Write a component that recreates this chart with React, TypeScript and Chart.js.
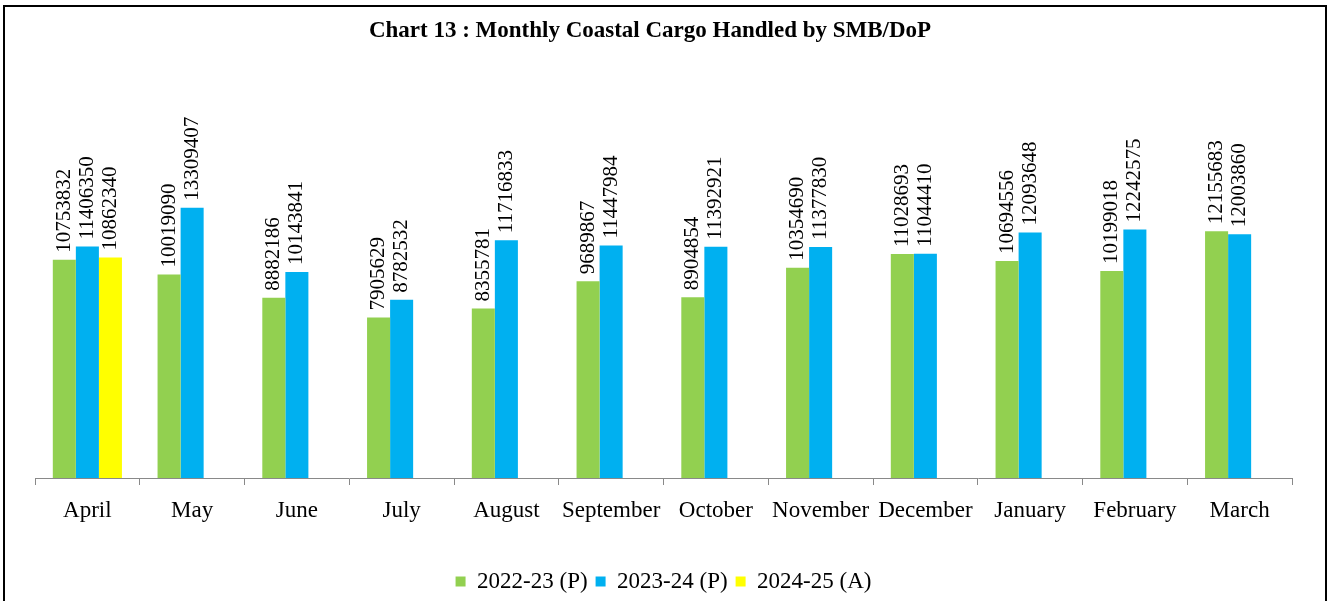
import React, { useEffect, useRef } from "react";
import { Chart, registerables } from "chart.js";

Chart.register(...registerables);

const months = ["April", "May", "June", "July", "August", "September", "October", "November", "December", "January", "February", "March"];
const fy2223 = [10753832, 10019090, 8882186, 7905629, 8355781, 9689867, 8904854, 10354690, 11028693, 10694556, 10199018, 12155683];
const fy2324 = [11406350, 13309407, 10143841, 8782532, 11716833, 11447984, 11392921, 11377830, 11044410, 12093648, 12242575, 12003860];
const fy2425 = [10862340, null, null, null, null, null, null, null, null, null, null, null];
const seriesNames = ["2022-23 (P)", "2023-24 (P)", "2024-25 (A)"];
const seriesColors = ["#92D050", "#00B0F0", "#FFFF00"];
const titleText = "Chart 13 : Monthly Coastal Cargo Handled by SMB/DoP";

const SERIF = "'Liberation Serif', 'Times New Roman', serif";

const decorPlugin = {
  id: "decor",
  beforeDraw(chart: any) {
    const ctx = chart.ctx;
    ctx.save();
    ctx.fillStyle = "#ffffff";
    ctx.fillRect(0, 0, chart.width, chart.height);
    ctx.strokeStyle = "#000000";
    ctx.lineWidth = 2;
    ctx.strokeRect(4, 6, 1322, 620);
    ctx.fillStyle = "#000000";
    ctx.font = `bold 23px ${SERIF}`;
    ctx.textAlign = "center";
    ctx.textBaseline = "middle";
    ctx.fillText(titleText, 650, 31);
    ctx.restore();
  },
  afterDatasetsDraw(chart: any) {
    const ctx = chart.ctx;
    ctx.save();
    ctx.fillStyle = "#000000";
    ctx.font = `21px ${SERIF}`;
    ctx.textAlign = "left";
    ctx.textBaseline = "middle";
    chart.data.datasets.forEach((ds: any, di: number) => {
      const meta = chart.getDatasetMeta(di);
      meta.data.forEach((bar: any, i: number) => {
        const v = ds.data[i];
        if (v === null || v === undefined) return;
        ctx.save();
        ctx.translate(bar.x, bar.y - 7);
        ctx.rotate(-Math.PI / 2);
        ctx.fillText(String(v), 0, 0);
        ctx.restore();
      });
    });
    ctx.restore();
  },
};

export default function App() {
  const ref = useRef<HTMLCanvasElement | null>(null);
  useEffect(() => {
    document.body.style.margin = "0";
    const canvas = ref.current;
    if (!canvas) return;
    const chart = new Chart(canvas, {
      type: "bar",
      data: {
        labels: months,
        datasets: [
          { label: seriesNames[0], data: fy2223, backgroundColor: seriesColors[0] },
          { label: seriesNames[1], data: fy2324, backgroundColor: seriesColors[1] },
          { label: seriesNames[2], data: fy2425, backgroundColor: seriesColors[2] },
        ],
      },
      options: {
        responsive: false,
        animation: false,
        maintainAspectRatio: false,
        datasets: { bar: { categoryPercentage: 0.66, barPercentage: 1, skipNull: false } },
        layout: { padding: { left: 35, right: 35, top: 72, bottom: -2 } },
        plugins: {
          title: { display: false },
          tooltip: { enabled: false },
          legend: {
            position: "bottom",
            labels: {
              font: { family: SERIF, size: 23 },
              color: "#000000",
              boxWidth: 10,
              boxHeight: 10,
              padding: 8,
            },
          },
        },
        scales: {
          x: {
            grid: { display: true, drawOnChartArea: false, drawTicks: true, tickLength: 7, color: "#898989", offset: true },
            border: { display: true, color: "#898989", width: 1 },
            ticks: { font: { family: SERIF, size: 23 }, color: "#000000", padding: 12, maxRotation: 0, autoSkip: false },
            afterFit: (scale: any) => {
              scale.height = 84;
            },
          },
          y: {
            display: false,
            min: 0,
            max: 20000000,
          },
        },
      },
      plugins: [decorPlugin],
    } as any);
    return () => chart.destroy();
  }, []);
  return (
    <div style={{ width: 1327, height: 601 }}>
      <canvas ref={ref} width={1327} height={601} style={{ display: "block" }} />
    </div>
  );
}
